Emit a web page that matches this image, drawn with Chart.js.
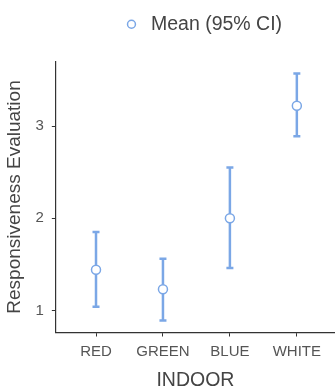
<!DOCTYPE html>
<html>
<head>
<meta charset="utf-8">
<script src="https://cdn.jsdelivr.net/npm/chart.js@4/dist/chart.umd.min.js"></script>
<style>
  html, body { margin: 0; padding: 0; background: #fff; }
  #wrap { width: 335px; height: 390px; }
</style>
</head>
<body>
<div id="wrap"><canvas id="meanChart"></canvas></div>
<script>
  // values
  const categories = ['RED', 'GREEN', 'BLUE', 'WHITE'];
  const means = [1.44, 1.23, 2.00, 3.22];
  const lower = [1.04, 0.89, 1.46, 2.89];
  const upper = [1.85, 1.56, 2.55, 3.57];
  const yTicks = [1, 2, 3];

  const blue = '#7ba7e6';
  const axisColor = '#333';
  Chart.defaults.font.family = "'Liberation Sans', Arial, sans-serif";

  // mean points
  const meanPoints = means.map((m, i) => ({ x: i + 1, y: m }));

  // vertical CI segments, broken with a gap after each category
  let ciPoints = [];
  categories.forEach((c, i) => {
    ciPoints.push({ x: i + 1, y: lower[i] });
    ciPoints.push({ x: i + 1, y: upper[i] });
    ciPoints.push({ x: i + 1, y: null });
  });

  // extra room under the legend, and nudge it a bit to the right
  const legendGap = {
    id: 'legendGap',
    beforeLayout(chart) {
      const lg = chart.legend;
      if (lg && !lg._gapPatched) {
        const fit = lg.fit.bind(lg);
        lg.fit = function () { fit(); this.height += 17.5; };
        lg._gapPatched = true;
      }
    },
    afterLayout(chart) {
      const lg = chart.legend;
      if (lg) { lg.left += 6.5; lg.right += 6.5; }
    }
  };

  const ctx = document.getElementById('meanChart').getContext('2d');
  new Chart(ctx, {
    type: 'scatter',
    data: {
      datasets: [
        {
          label: 'Mean (95% CI)',
          data: meanPoints,
          pointStyle: 'circle',
          pointRadius: 4.5,
          pointHoverRadius: 4.5,
          borderWidth: 1.5,
          borderColor: blue,
          backgroundColor: '#fff'
        },
        {
          label: 'CI',
          data: ciPoints,
          showLine: true,
          spanGaps: false,
          borderColor: blue,
          borderWidth: 2.5,
          pointStyle: 'line',
          pointRadius: 3.5,
          pointBorderWidth: 2.5,
          pointBorderColor: blue,
          backgroundColor: blue
        }
      ]
    },
    plugins: [legendGap],
    options: {
      responsive: true,
      maintainAspectRatio: false,
      animation: false,
      layout: { autoPadding: false, padding: 0 },
      plugins: {
        tooltip: { enabled: false },
        legend: {
          position: 'top',
          fullSize: false,
          labels: {
            usePointStyle: true,
            boxWidth: 19.5,
            boxHeight: 5.6,
            padding: 14.5,
            color: '#444',
            font: { size: 19.5 },
            filter: item => item.datasetIndex === 0
          }
        }
      },
      scales: {
        x: {
          type: 'linear',
          min: 0.4,
          max: 4.57,
          offset: false,
          afterBuildTicks: scale => {
            scale.ticks = categories.map((c, i) => ({ value: i + 1 }));
          },
          ticks: {
            callback: value => categories[value - 1],
            color: '#555',
            padding: 6,
            font: { size: 15 },
            maxRotation: 0
          },
          grid: { drawOnChartArea: false, tickLength: 4, color: axisColor },
          border: { display: true, color: axisColor, width: 1.2 },
          title: {
            display: true,
            text: 'INDOOR',
            color: '#444',
            font: { size: 19.5, lineHeight: 1 },
            padding: { top: 4, bottom: 0 }
          }
        },
        y: {
          min: 0.76,
          max: 3.70,
          afterBuildTicks: scale => {
            scale.ticks = yTicks.map(v => ({ value: v }));
          },
          ticks: {
            color: '#555',
            padding: 8,
            font: { size: 15 }
          },
          grid: { drawOnChartArea: false, tickLength: 4, color: axisColor },
          border: { display: true, color: axisColor, width: 1.2 },
          title: {
            display: true,
            text: 'Responsiveness Evaluation',
            color: '#444',
            font: { size: 19, lineHeight: 1 },
            padding: { top: 5.5, bottom: 3 }
          }
        }
      }
    }
  });
</script>
</body>
</html>
